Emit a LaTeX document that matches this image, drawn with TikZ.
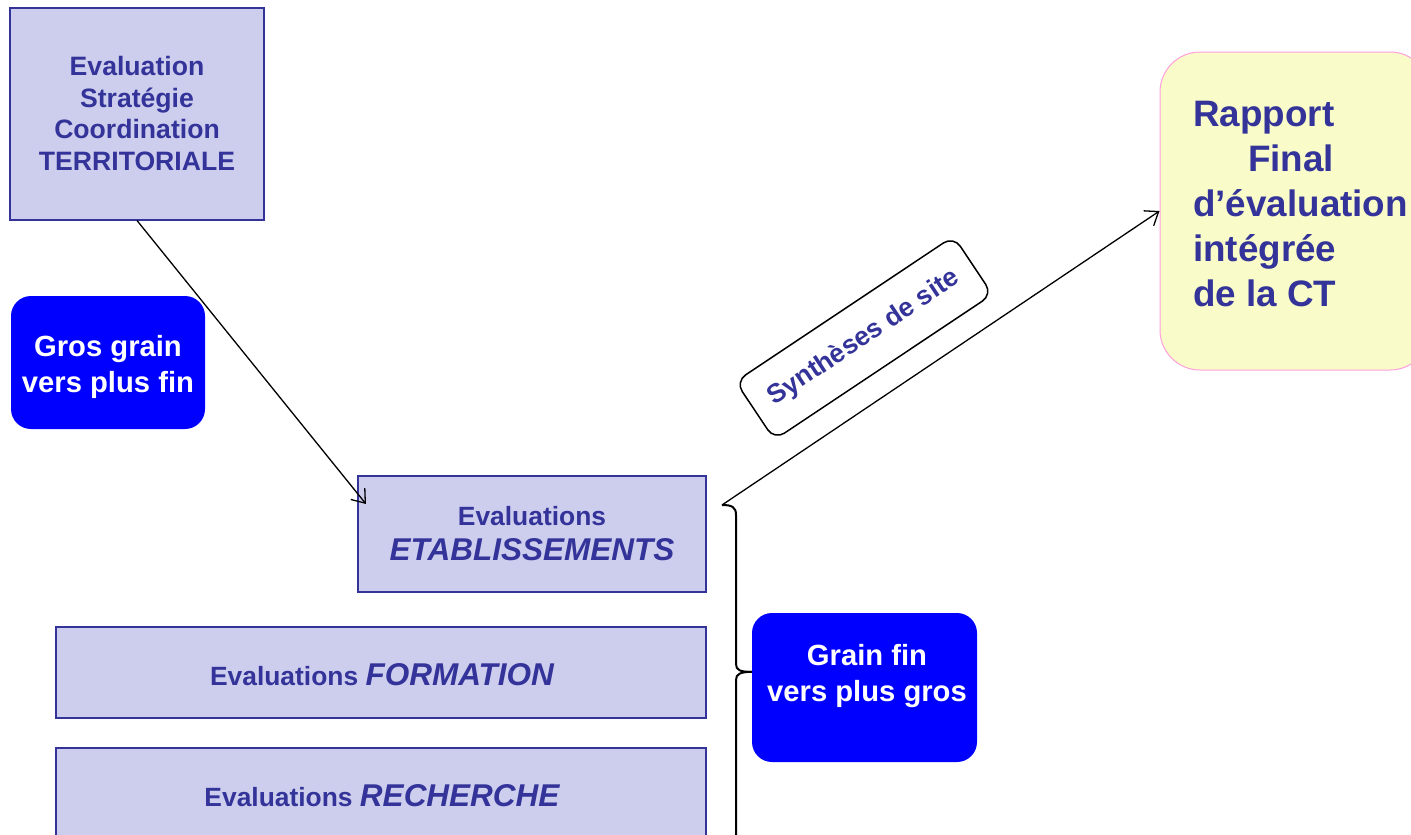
\documentclass[tikz,border=0pt]{standalone}
\usepackage{fontspec}
\setmainfont{Liberation Sans}
\usetikzlibrary{arrows.meta,calc}
\definecolor{lav}{RGB}{205,206,238}
\definecolor{navy}{RGB}{51,51,153}
\definecolor{pblue}{RGB}{0,0,255}
\definecolor{cream}{RGB}{249,251,200}
\definecolor{pinkb}{RGB}{255,160,220}
\tikzset{
 evalbox/.style={draw=navy, line width=2pt, fill=lav, inner sep=0pt, text=navy, font=\bfseries, align=center},
 evaltext/.style={text=navy, inner sep=0pt, align=center},
 bluebox/.style={fill=pblue, rounded corners=20pt, inner sep=0pt},
 bluetext/.style={text=white, font=\bfseries\fontsize{29.2}{36}\selectfont, align=center, inner sep=0pt},
 conn/.style={line width=1.3pt, -{Straight Barb[length=12pt,width=18pt,line width=1.3pt]}},
 bracepath/.style={line width=2pt, line join=round},
}
\begin{document}
\begin{tikzpicture}[x=1pt,y=-1pt]
\useasboundingbox (0,0) rectangle (1411,835);
\clip (0,0) rectangle (1411,835);

\node[evalbox, minimum width=254pt, minimum height=212pt, font=\bfseries\fontsize{26.6}{31.5}\selectfont] (terr) at (137,113.5) {Evaluation\\Stratégie\\Coordination\\TERRITORIALE};

\node[evalbox, minimum width=348pt, minimum height=116pt] (etab) at (532,534) {};
\node[evaltext, font=\bfseries\fontsize{26.4}{34}\selectfont] (etab1) at (532,516) {Evaluations};
\node[evaltext, font=\bfseries\itshape\fontsize{31.5}{34}\selectfont] (etab2) at (532,550) {ETABLISSEMENTS};

\node[evalbox, minimum width=650pt, minimum height=91pt] (form) at (381,672.5) {};
\node[evaltext, font=\bfseries] (formtxt) at (382,674.5) {\fontsize{26.4}{30}\selectfont Evaluations \fontsize{31.5}{34}\selectfont\itshape FORMATION};

\node[evalbox, minimum width=650pt, minimum height=91pt] (rech) at (381,793.5) {};
\node[evaltext, font=\bfseries] (rechtxt) at (382,795.5) {\fontsize{26.4}{30}\selectfont Evaluations \fontsize{31.5}{34}\selectfont\itshape RECHERCHE};

\node[bluebox, minimum width=194pt, minimum height=133pt] (gros) at (108,362.5) {};
\node[bluetext] (grostxt) at (108,367) {Gros grain\\vers plus fin};

\node[bluebox, minimum width=225pt, minimum height=149pt] (grainfin) at (864.5,687.5) {};
\node[bluetext] (grainfintxt) at (867,676) {Grain fin\\vers plus gros};

\node[draw=pinkb, line width=1pt, fill=cream, rounded corners=40pt, minimum width=270pt, minimum height=318pt] (rapport) at (1295,211) {};
\node[anchor=west, text=navy, font=\bfseries\fontsize{36.8}{45}\selectfont, align=left, inner sep=0pt] (rapporttxt) at (1193,204) {Rapport\\\hspace*{55pt}Final\\d’évaluation\\intégrée\\de la CT};

\node[draw=black, line width=1.5pt, fill=white, rounded corners=12pt, minimum width=262pt, minimum height=70pt, rotate=33.7, text=navy, font=\bfseries\fontsize{26.5}{30}\selectfont] (synth) at (864,338) {Synthèses de site};

\coordinate (bt) at (722,505);
\coordinate (tip) at ($(grainfin.north west)+(0,59)$);
\draw[bracepath] (bt) .. controls (732,505) and (736,507) .. (736,515) -- (736,664) .. controls (736,670) and (740,672) .. (tip);
\draw[bracepath] (tip) .. controls (740,672) and (736,674) .. (736,680) -- (736,845);

\draw[conn] (terr.south) -- ($(etab.north west)+(9,29)$);
\draw[conn] (bt) -- (rapport.west);
\end{tikzpicture}
\end{document}
